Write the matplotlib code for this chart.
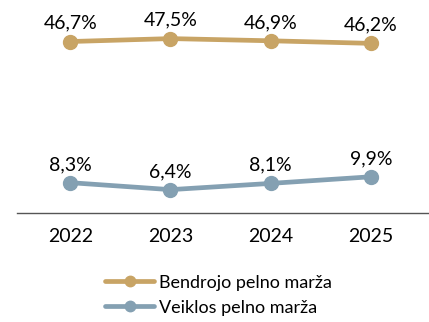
import numpy as np
import matplotlib.pyplot as plt

plt.rcParams['font.family'] = ['Lato', 'DejaVu Sans']

years = ['2022', '2023', '2024', '2025']
bendrojo = [46.7, 47.5, 46.9, 46.2]
veiklos = [8.3, 6.4, 8.1, 9.9]

gold = '#C8A465'
blue = '#84A0B2'

fig = plt.figure(figsize=(4.29, 3.22), dpi=100)
ax = fig.add_axes([0.04, 0.338, 0.96, 0.662])

x = np.arange(len(years))
ax.plot(x, bendrojo, color=gold, lw=3.4, marker='o', ms=10,
        label='Bendrojo pelno marža', solid_capstyle='round')
ax.plot(x, veiklos, color=blue, lw=3.4, marker='o', ms=10,
        label='Veiklos pelno marža', solid_capstyle='round')

# value labels above each point
for series in (bendrojo, veiklos):
    for xi, v in zip(x, series):
        ax.annotate(f'{v:.1f}%'.replace('.', ','), (xi, v), xytext=(0, 7),
                    textcoords='offset points', ha='center', va='bottom',
                    fontsize=14)

ax.set_xlim(-0.53, 3.58)
ax.set_ylim(0, 58)
for s in ['top', 'right', 'left']:
    ax.spines[s].set_visible(False)
ax.spines['bottom'].set_color('#555555')
ax.spines['bottom'].set_linewidth(1)
ax.set_yticks([])
ax.set_xticks(x)
ax.set_xticklabels(years, fontsize=14)
ax.tick_params(axis='x', length=0, pad=11)

fig.legend(loc='center', bbox_to_anchor=(0.51, 0.083), frameon=False,
           fontsize=13, handlelength=2.7, handletextpad=0.3,
           labelspacing=0.5, markerscale=0.75)

fig.savefig('out.png', dpi=100)
